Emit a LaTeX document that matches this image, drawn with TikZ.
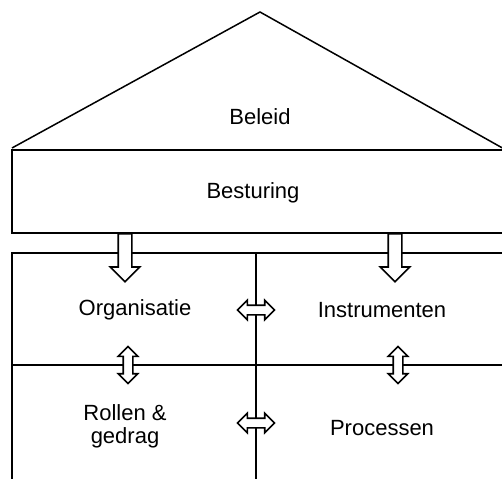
\documentclass[tikz,border=0pt]{standalone}
\usepackage{fontspec}
\setmainfont{Liberation Sans}
\usetikzlibrary{shapes.arrows}
\begin{document}
\begin{tikzpicture}[x=1pt, y=-1pt, line width=1.5pt,
		label/.style={font=\fontsize{22}{26}\selectfont, align=center},
		downarrow/.style={single arrow, draw, fill=white, line width=1.6pt, inner xsep=0pt, inner ysep=6pt, minimum height=48pt, single arrow head extend=8pt, single arrow head indent=0pt, rotate=-90},
		twoarrow/.style={double arrow, draw, fill=white, line width=1.6pt, inner xsep=0pt, inner ysep=4pt, minimum height=37pt, double arrow head extend=5pt}]
		\useasboundingbox (0,0) rectangle (502,478);
		\clip (0,0) rectangle (502,478);
		\draw (12,148) -- (260,12) -- (506,150);
		\draw (12,150) rectangle (510,233);
		\draw (12,253) rectangle (510,490);
		\draw (256,253) -- (256,490);
		\draw (12,365) -- (510,365);
		
		\node[label] (beleid) at (260,117) {Beleid};
		\node[label] (besturing) at (253,193) {Besturing};
		\node[label] (organisatie) at (135,310) {Organisatie};
		\node[label] (instrumenten) at (382,310) {Instrumenten};
		\node[label] (rollen) at (125,426) {Rollen \&\\[-3pt]gedrag};
		\node[label] (processen) at (382,428) {Processen};
		
		\node[downarrow, anchor=tail] (down1) at (125,233) {};
		\node[downarrow, anchor=tail] (down2) at (395,233) {};
		\node[twoarrow] (orgins) at (256,310) {};
		\node[twoarrow] (rolpro) at (256,423) {};
		\node[twoarrow, rotate=90] (orgrol) at (128,365) {};
		\node[twoarrow, rotate=90] (inspro) at (398,365) {};
	\end{tikzpicture}
\end{document}
